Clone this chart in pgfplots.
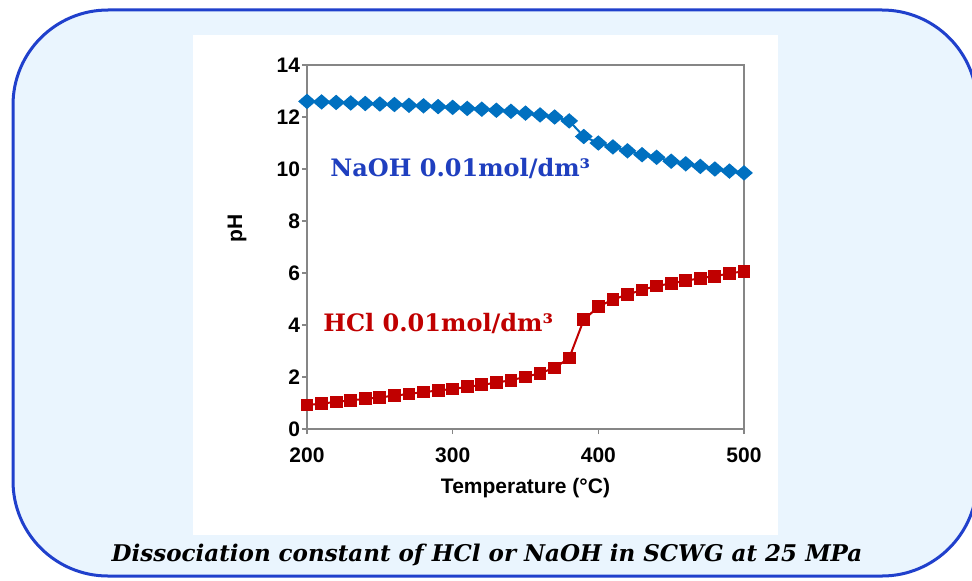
\documentclass[border=0pt]{standalone}
\usepackage{fontspec}
\setmainfont{Liberation Sans}
\newfontfamily\serifb{DejaVu Serif}
\usepackage{pgfplots}
\pgfplotsset{compat=1.18}
\definecolor{bgblue}{HTML}{EAF5FE}
\definecolor{bordblue}{HTML}{2040CC}
\definecolor{naoh}{HTML}{0070C0}
\definecolor{naohtxt}{HTML}{1F3FBF}
\definecolor{hcl}{HTML}{C00000}
\definecolor{axgray}{HTML}{868686}
\pgfdeclareplotmark{mydiamond}{%
  \pgfpathmoveto{\pgfqpoint{0pt}{\pgfplotmarksize}}%
  \pgfpathlineto{\pgfqpoint{1.15\pgfplotmarksize}{0pt}}%
  \pgfpathlineto{\pgfqpoint{0pt}{-\pgfplotmarksize}}%
  \pgfpathlineto{\pgfqpoint{-1.15\pgfplotmarksize}{0pt}}%
  \pgfpathclose\pgfusepathqfillstroke}
\pgfplotstableread{
T pH
200 12.60
210 12.58
220 12.56
230 12.54
240 12.52
250 12.50
260 12.48
270 12.45
280 12.43
290 12.40
300 12.37
310 12.33
320 12.30
330 12.26
340 12.22
350 12.15
360 12.08
370 12.00
380 11.85
390 11.25
400 11.00
410 10.85
420 10.70
430 10.55
440 10.45
450 10.30
460 10.20
470 10.10
480 10.00
490 9.92
500 9.85
}\naoh
\pgfplotstableread{
T pH
200 0.92
210 0.98
220 1.04
230 1.10
240 1.16
250 1.22
260 1.28
270 1.35
280 1.42
290 1.48
300 1.54
310 1.62
320 1.70
330 1.78
340 1.88
350 2.00
360 2.15
370 2.35
380 2.73
390 4.20
400 4.70
410 4.98
420 5.17
430 5.35
440 5.50
450 5.60
460 5.70
470 5.80
480 5.88
490 5.98
500 6.07
}\hcl
\begin{document}
\begin{tikzpicture}[x=0.5pt,y=0.5pt]
\path[use as bounding box] (0,0) rectangle (972,580);
\clip (0,0) rectangle (972,580);
\fill[white] (0,0) rectangle (972,580);
\draw[bordblue, line width=1.5pt, fill=bgblue, rounded corners=47.5pt] (13,4) rectangle (977,570);
\fill[white] (193,45) rectangle (778,545);
\begin{axis}[
  at={(153.5pt,75.5pt)}, anchor=south west,
  scale only axis, width=218.5pt, height=182pt,
  xmin=200, xmax=500, ymin=0, ymax=14,
  xtick={200,300,400,500}, ytick={0,2,...,14},
  xtick pos=bottom, ytick pos=left,
  tick align=outside, major tick length=2.5pt,
  axis line style={axgray, line width=0.75pt},
  tick style={axgray, line width=0.75pt},
  /pgf/number format/assume math mode=true,
  tick label style={font=\bfseries\fontsize{10.5}{12}\selectfont},
  xticklabel style={yshift=-3.5pt},
  yticklabel style={xshift=2.5pt},
  xlabel={Temperature (°C)},
  ylabel={pH},
  xlabel style={font=\bfseries\fontsize{10.5}{12}\selectfont, at={([yshift=-32pt]rel axis cs:0.5,0)}, anchor=base},
  ylabel style={font=\bfseries\fontsize{10.5}{12}\selectfont, at={([xshift=-35pt]rel axis cs:0,0.552)}, anchor=center},
  clip=false,
]
\addplot[naoh, line width=1pt, mark=mydiamond, mark size=3.2pt, mark options={solid}] table[x=T,y=pH]{\naoh};
\addplot[hcl, line width=1pt, mark=square*, mark size=2.7pt, mark options={solid}] table[x=T,y=pH]{\hcl};
\end{axis}
\node[anchor=base west, text=naohtxt, font=\serifb\bfseries\fontsize{12}{14}\selectfont, inner sep=0pt] at (330,404) {NaOH 0.01mol/dm³};
\node[anchor=base west, text=hcl, font=\serifb\bfseries\fontsize{12}{14}\selectfont, inner sep=0pt] at (323,249) {HCl 0.01mol/dm³};
\node[anchor=base, font=\serifb\bfseries\itshape\fontsize{11.5}{14}\selectfont, inner sep=0pt] at (487,19) {Dissociation constant of HCl or NaOH in SCWG at 25 MPa};
\end{tikzpicture}
\end{document}
